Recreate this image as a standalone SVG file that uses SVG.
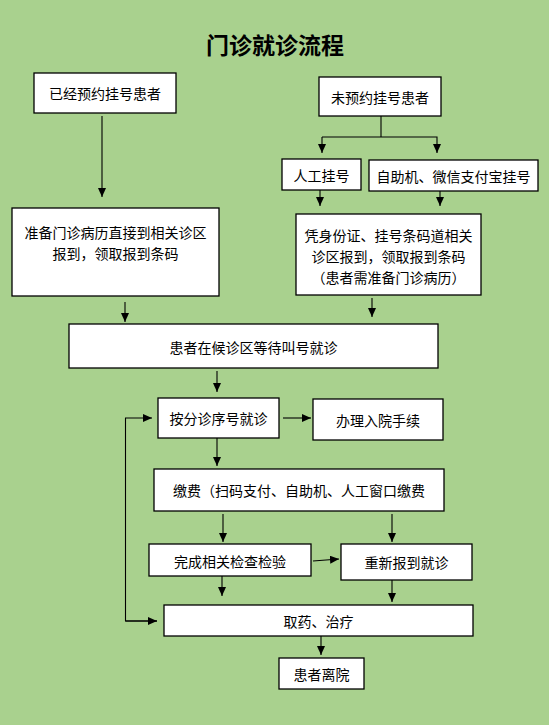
<svg xmlns="http://www.w3.org/2000/svg" width="549" height="725" viewBox="0 0 549 725">
<style>
.bx{fill:#fff;stroke:#000;stroke-width:1.3}
.t{font-family:"Noto Sans CJK SC","Liberation Sans",sans-serif;font-size:14px;fill:#000;text-anchor:middle;dominant-baseline:central}
.ln{fill:none;stroke:#000;stroke-width:1.1}
.ti{font-family:"Noto Sans CJK SC","Liberation Sans",sans-serif;font-size:23px;font-weight:bold;fill:#000;text-anchor:middle;dominant-baseline:central}
</style>
<defs>
<marker id="ah" markerUnits="userSpaceOnUse" markerWidth="10" markerHeight="10" refX="9" refY="4" orient="auto">
<path d="M0,0 L9,4 L0,8 Z" fill="#000"/>
</marker>
</defs>
<rect width="549" height="725" fill="#a9d18e"/>
<text class="ti" x="275" y="44">门诊就诊流程</text>
<g id="n1"><rect class="bx" x="34" y="73" width="142" height="40"/><text class="t" x="105" y="93">已经预约挂号患者</text></g>
<g id="n2"><rect class="bx" x="319" y="77" width="122" height="39"/><text class="t" x="380" y="97">未预约挂号患者</text></g>
<g id="n3"><rect class="bx" x="282" y="159" width="79" height="31"/><text class="t" x="321.5" y="175">人工挂号</text></g>
<g id="n4"><rect class="bx" x="369" y="160" width="169" height="31"/><text class="t" x="453.5" y="175.5">自助机、微信支付宝挂号</text></g>
<g id="n5"><rect class="bx" x="12" y="208" width="207" height="88"/><text class="t" x="115.5" y="232">准备门诊病历直接到相关诊区</text><text class="t" x="115.5" y="253">报到，领取报到条码</text></g>
<g id="n6"><rect class="bx" x="296" y="214" width="185" height="81"/><text class="t" x="388.5" y="235">凭身份证、挂号条码道相关</text><text class="t" x="388.5" y="256">诊区报到，领取报到条码</text><text class="t" x="388.5" y="277">（患者需准备门诊病历）</text></g>
<g id="n7"><rect class="bx" x="69" y="324" width="369" height="44"/><text class="t" x="253.5" y="347">患者在候诊区等待叫号就诊</text></g>
<g id="n8"><rect class="bx" x="158" y="398" width="121" height="40"/><text class="t" x="218.5" y="418">按分诊序号就诊</text></g>
<g id="n9"><rect class="bx" x="313" y="399" width="130" height="41"/><text class="t" x="378" y="420">办理入院手续</text></g>
<g id="n10"><rect class="bx" x="154" y="469" width="290" height="42"/><text class="t" x="299" y="490">缴费（扫码支付、自助机、人工窗口缴费</text></g>
<g id="n11"><rect class="bx" x="149" y="544" width="162" height="32"/><text class="t" x="230" y="561">完成相关检查检验</text></g>
<g id="n12"><rect class="bx" x="341" y="544" width="131" height="36"/><text class="t" x="406.5" y="562">重新报到就诊</text></g>
<g id="n13"><rect class="bx" x="164" y="605" width="309" height="31"/><text class="t" x="318.5" y="621">取药、治疗</text></g>
<g id="n14"><rect class="bx" x="279" y="658" width="85" height="31"/><text class="t" x="321.5" y="674">患者离院</text></g>
<g id="connectors">
<line class="ln" x1="102" y1="116" x2="102" y2="197" marker-end="url(#ah)"/>
<polyline class="ln" points="381,116 381,137"/>
<polyline class="ln" points="322,137 437,137 437,153" marker-end="url(#ah)"/>
<line class="ln" x1="322" y1="137" x2="322" y2="153" marker-end="url(#ah)"/>
<line class="ln" x1="320" y1="190" x2="320" y2="206" marker-end="url(#ah)"/>
<line class="ln" x1="440" y1="191" x2="440" y2="206" marker-end="url(#ah)"/>
<line class="ln" x1="125" y1="302" x2="125" y2="322" marker-end="url(#ah)"/>
<line class="ln" x1="372" y1="298" x2="372" y2="317" marker-end="url(#ah)"/>
<line class="ln" x1="217" y1="371" x2="217" y2="392" marker-end="url(#ah)"/>
<line class="ln" x1="283" y1="418" x2="311" y2="418" marker-end="url(#ah)"/>
<line class="ln" x1="217" y1="438" x2="217" y2="466" marker-end="url(#ah)"/>
<line class="ln" x1="223" y1="514" x2="223" y2="542" marker-end="url(#ah)"/>
<line class="ln" x1="392" y1="514" x2="392" y2="542" marker-end="url(#ah)"/>
<line class="ln" x1="313" y1="561" x2="339" y2="559" marker-end="url(#ah)"/>
<line class="ln" x1="222" y1="576" x2="222" y2="596" marker-end="url(#ah)"/>
<line class="ln" x1="392" y1="580" x2="392" y2="602" marker-end="url(#ah)"/>
<polyline class="ln" points="157,621 125.5,621 125.5,418 152,418" marker-end="url(#ah)"/>
<line class="ln" x1="125.5" y1="621" x2="157" y2="621" marker-end="url(#ah)"/>
<line class="ln" x1="321" y1="636" x2="321" y2="655" marker-end="url(#ah)"/>
</g>
</svg>
